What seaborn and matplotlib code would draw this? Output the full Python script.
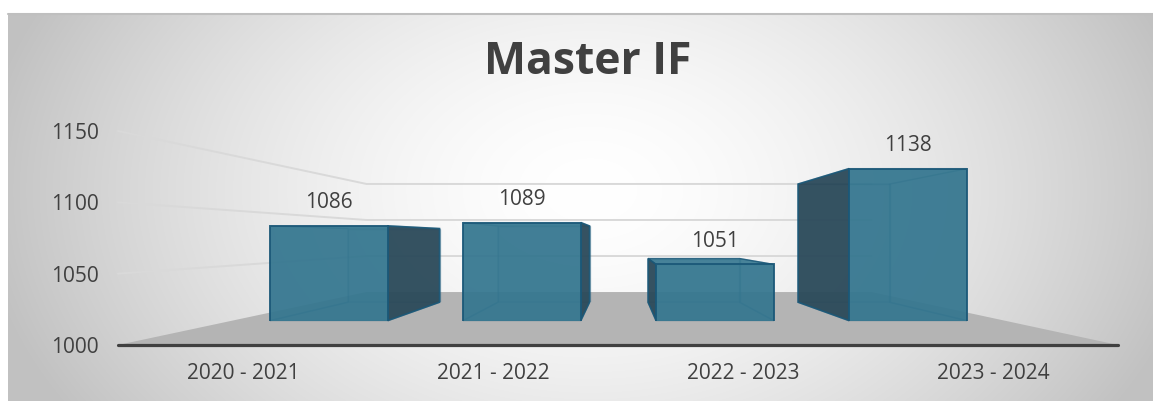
import numpy as np
import pandas as pd
import matplotlib
matplotlib.use("Agg")
import matplotlib.pyplot as plt
from matplotlib.patches import Polygon
import seaborn as sns

# chart data
seasons = ["2020 - 2021", "2021 - 2022", "2022 - 2023", "2023 - 2024"]
students = [1086, 1089, 1051, 1138]
y_ticks = [1000, 1050, 1100, 1150]
chart_title = "Master IF"

sns.set_theme(style="white")
plt.rcParams['font.family'] = ['Open Sans', 'DejaVu Sans']

W, H = 1153, 401
fig = plt.figure(figsize=(W / 100, H / 100), dpi=100)

# fake 3D: every plane is the front (axis) plane scaled towards a vanishing point
VX, VY = 620, H - 238
S_FRONT, S_BACK, S_FLOOR = 0.772, 0.60, 0.505
TXT = '#404040'
BLUE = '#34768f'
EDGE = '#1b5878'


def plane(s):
    l = VX + s * (118 - VX)
    r = VX + s * (1118 - VX)
    b = VY + s * (56 - VY)
    t = VY + s * (270 - VY)
    return [l / W, b / H, (r - l) / W, (t - b) / H]


def setup(a):
    a.set_xlim(-0.5, len(seasons) - 0.5)
    a.set_ylim(y_ticks[0], y_ticks[-1])
    a.set_facecolor('none')
    for sp in a.spines.values():
        sp.set_visible(False)
    a.set_xlabel('')
    a.set_ylabel('')


# background with radial gradient (pixel coords, top origin)
bg = fig.add_axes([0, 0, 1, 1], zorder=-10)
gx, gy = np.meshgrid(np.arange(W), np.arange(H))
r = np.sqrt(((gx - 590) / 610) ** 2 + ((gy - 190) / 420) ** 2)
shade = 1 - 0.24 * np.clip(r, 0, 1) ** 1.6
img = np.dstack([shade] * 3)
img[:13, :, :] = 1
img[:, :8, :] = 1
bg.imshow(img, extent=(0, W, H, 0), aspect='auto')
bg.plot([8, W], [13.5, 13.5], color='#bfbfbf', lw=1.5)
bg.set_xlim(0, W)
bg.set_ylim(H, 0)
bg.axis('off')

# front plane: axis, tick labels
ax = fig.add_axes(plane(1.0), zorder=1)
setup(ax)
ax.set_xticks(range(len(seasons)))
ax.set_xticklabels(seasons)
ax.set_yticks(y_ticks)
ax.tick_params(axis='both', length=0, labelsize=15, labelcolor=TXT)
ax.tick_params(axis='y', pad=14)
ax.tick_params(axis='x', pad=13)
ax.spines['bottom'].set_visible(True)
ax.spines['bottom'].set_color(TXT)
ax.spines['bottom'].set_linewidth(2.3)
ax.spines['bottom'].set_capstyle('round')


def proj(x, y, s):
    px, py = ax.transData.transform((x, y))
    return VX + s * (px - VX), H - (VY + s * (py - VY))


x_lo, x_hi = ax.get_xlim()
base = y_ticks[0]

# floor
floor = [proj(x_lo, base, 1), proj(x_hi, base, 1),
         proj(x_hi, base, S_FLOOR), proj(x_lo, base, S_FLOOR)]
bg.add_patch(Polygon(floor, closed=True, facecolor='#b4b4b4', edgecolor='none'))

# gridlines on left wall and back wall
for v in y_ticks[1:]:
    p0 = proj(x_lo, v, 1)
    p1 = proj(x_lo, v, S_FLOOR)
    p2 = proj(x_hi, v, S_FLOOR)
    bg.plot([p0[0], p1[0], p2[0]], [p0[1], p1[1], p2[1]], color='#d9d9d9', lw=1.4)

df = pd.DataFrame({'season': seasons, 'students': students})

# back faces
ax_b = fig.add_axes(plane(S_BACK), zorder=2)
sns.barplot(data=df, x='season', y='students', ax=ax_b, color=BLUE, width=0.61,
            saturation=1, alpha=0.35, edgecolor=EDGE, linewidth=1.0)
setup(ax_b)
ax_b.set_xticks([])
ax_b.set_yticks([])

# front faces
ax_f = fig.add_axes(plane(S_FRONT), zorder=4)
sns.barplot(data=df, x='season', y='students', ax=ax_f, color=BLUE, width=0.61,
            saturation=1, alpha=0.9, edgecolor=EDGE, linewidth=1.4)
setup(ax_f)
ax_f.set_xticks([])
ax_f.set_yticks([])
ax_f.bar_label(ax_f.containers[0], labels=[str(v) for v in students],
               padding=9, fontsize=15, color=TXT)

# side, top and bottom faces joining front and back
deck = fig.add_axes([0, 0, 1, 1], zorder=3)
deck.set_xlim(0, W)
deck.set_ylim(H, 0)
deck.axis('off')
for p in ax_f.containers[0].patches:
    x0 = p.get_x()
    x1 = x0 + p.get_width()
    top = p.get_height()

    def face(pts):
        return [proj(x, y, S_FRONT) for x, y in pts[:2]] + [proj(x, y, S_BACK) for x, y in pts[2:]]

    left = face([(x0, base), (x0, top), (x0, top), (x0, base)])
    right = face([(x1, base), (x1, top), (x1, top), (x1, base)])
    top_f = face([(x0, top), (x1, top), (x1, top), (x0, top)])
    bot_f = face([(x0, base), (x1, base), (x1, base), (x0, base)])
    cx = proj((x0 + x1) / 2, base, S_FRONT)[0]
    seen, hidden = (right, left) if cx < VX else (left, right)
    for pts in (bot_f, hidden):
        deck.add_patch(Polygon(pts, closed=True, facecolor=BLUE, alpha=0.3,
                               edgecolor=EDGE, lw=1.0))
    # top face is seen from above when it lies under the horizon
    top_alpha = 0.85 if top_f[0][1] > H - VY else 0.3
    deck.add_patch(Polygon(top_f, closed=True, facecolor=BLUE, alpha=top_alpha,
                           edgecolor=EDGE, lw=1.0))
    deck.add_patch(Polygon(seen, closed=True, facecolor='#2a4858', alpha=0.92,
                           edgecolor=EDGE, lw=1.2))

fig.text(588 / W, 1 - 62 / H, chart_title, ha='center', va='center',
         fontsize=32, fontweight='bold', color=TXT)

fig.savefig('out.png', dpi=100)
